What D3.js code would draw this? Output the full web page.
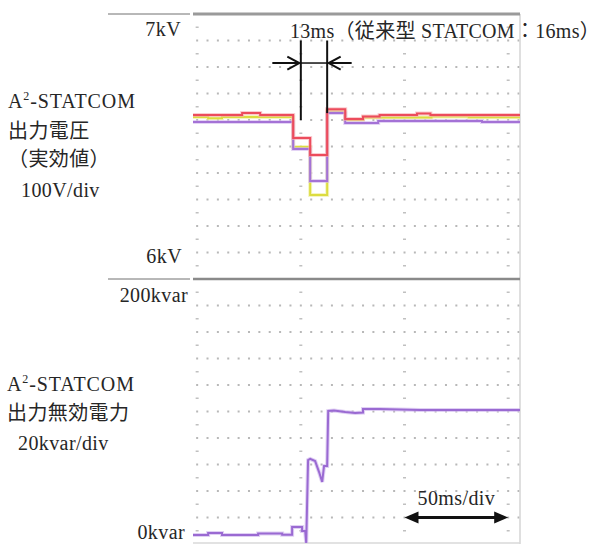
<!DOCTYPE html>
<html><head><meta charset="utf-8">
<script src="https://cdn.jsdelivr.net/npm/d3@7"></script>
<style>body{margin:0;background:#fff} svg{display:block}</style>
</head><body>
<svg id="c" width="603" height="544"></svg>
<script>
// ---- data (time in ms, voltage in V, reactive power in kvar) ----
const redT    = [-2, 21.7, 30.4, 46.3, 54.5, 62.7, 71.4, 80, 88, 106, 112.5, 155.7];
const redV    = [6619, 6626, 6619, 6532, 6468, 6641, 6604, 6613, 6619, 6625, 6619, 6619];
const yellowT = [-2, 5.3, 12, 46.3, 54.5, 62.7, 71.4, 80, 113, 131, 155.7];
const yellowV = [6611, 6607, 6611, 6498, 6317, 6632, 6600, 6609, 6613, 6610, 6610];
const purpleT = [-2, 46.3, 54.5, 62.7, 71.4, 87.3, 137.4, 155.7];
const purpleV = [6592, 6491, 6370, 6626, 6589, 6596, 6592, 6592];
const qT = [-2, 5.3, 5.3, 12, 12, 29.4, 29.4, 41, 41, 45.8, 45.8, 50.6, 50.6, 52.1, 52.6, 53.5, 54.5, 56.9, 58.8, 60.3, 61.2, 62.7, 63.2, 66, 71.4, 76.2, 80, 80, 88, 107.5, 155.7];
const qV = [6.8, 6.8, 8.3, 8.3, 6.8, 6.8, 8.0, 8.0, 7.0, 7.0, 12.8, 12.8, 9.8, 9.8, 0.8, 63.4, 64.2, 62.6, 54.3, 46.8, 58.9, 58.9, 100.4, 100.8, 99.6, 98.9, 99.2, 101.9, 101.9, 101.1, 101.1];
const vTicks = ["7kV", "6kV"];
const qTicks = ["200kvar", "0kvar"];
const markerTimes = [50, 62.7];
const labelTop = ["A", "出力電圧", "（実効値）", "100V/div"];
const labelBot = ["A", "出力無効電力", "20kvar/div"];
const noteText = "13ms（従来型 STATCOM：16ms）";
const divText = "50ms/div";

// ---- scales ----
const x = d3.scaleLinear().domain([-2, 155.7]).range([193, 520]);
const yV = d3.scaleLinear().domain([6000, 7000]).range([279, 14]);
const yQ = d3.scaleLinear().domain([0, 200]).range([544, 279]);

const svg = d3.select("#c");
const FONT = '"Liberation Serif","Noto Sans CJK JP",serif';
const INK = "#262626";

// ---- grid ----
const g = svg.append("g");
const dotT = d3.range(0, 156, 5);
const colT = [0, 50, 100, 150];
function hDots(ys) {
  ys.forEach(yy => {
    g.selectAll(null).data(dotT).enter().append("rect")
      .attr("x", d => x(d) - 1).attr("y", yy - 1).attr("width", 2).attr("height", 2)
      .attr("fill", "#b8b8b8");
  });
}
hDots(d3.range(6100, 6901, 100).map(yV));
hDots(d3.range(20, 181, 20).map(yQ));
const halfV = d3.range(6050, 7000, 100).map(yV);
const halfQ = d3.range(10, 200, 20).map(yQ);
[...halfV, ...halfQ].forEach(yy => {
  g.selectAll(null).data(colT).enter().append("rect")
    .attr("x", d => x(d) - 1.5).attr("y", yy - 0.75).attr("width", 3).attr("height", 1.5)
    .attr("fill", "#c0c0c0");
});

// borders
svg.append("line").attr("x1", x(155.7)).attr("x2", x(155.7)).attr("y1", yV(7000)).attr("y2", 544)
  .attr("stroke", "#d4d4d4").attr("stroke-width", 1.5);
svg.append("line").attr("x1", x(-2)).attr("x2", x(155.7)).attr("y1", 543).attr("y2", 543)
  .attr("stroke", "#d8d8d8").attr("stroke-width", 1.5);
svg.append("line").attr("x1", x(-2)).attr("x2", x(155.7)).attr("y1", yV(7000)).attr("y2", yV(7000))
  .attr("stroke", "#9a9a9a").attr("stroke-width", 3);
svg.append("line").attr("x1", x(-2)).attr("x2", x(155.7)).attr("y1", yV(6000)).attr("y2", yV(6000))
  .attr("stroke", "#8a8a8a").attr("stroke-width", 2.5);
// left label lines
[yV(7000), yV(6000)].forEach(yy => {
  svg.append("line").attr("x1", 108).attr("x2", 190).attr("y1", yy).attr("y2", yy)
    .attr("stroke", "#707070").attr("stroke-width", 1);
});

// ---- traces ----
function trace(T, V, ys, color, halo, curve) {
  const pts = T.map((t, i) => [t, V[i]]);
  const line = d3.line().x(d => x(d[0])).y(d => ys(d[1])).curve(curve);
  svg.append("path").attr("d", line(pts)).attr("fill", "none")
    .attr("stroke", halo).attr("stroke-width", 4).attr("stroke-opacity", 0.6);
  svg.append("path").attr("d", line(pts)).attr("fill", "none")
    .attr("stroke", color).attr("stroke-width", 2);
}
trace(yellowT, yellowV, yV, "#dcdc40", "#eeee98", d3.curveStepAfter);
trace(purpleT, purpleV, yV, "#a472d6", "#d2b8ee", d3.curveStepAfter);
trace(redT, redV, yV, "#ec4c5c", "#f8aab2", d3.curveStepAfter);
trace(qT, qV, yQ, "#9a6ad2", "#cbb0ec", d3.curveLinear);

// ---- annotations ----
const [m1, m2] = markerTimes;
svg.append("line").attr("x1", x(m1)).attr("x2", x(m1)).attr("y1", yV(6900)).attr("y2", yV(6600))
  .attr("stroke", "#111").attr("stroke-width", 2);
svg.append("line").attr("x1", x(m2)).attr("x2", x(m2)).attr("y1", yV(6900)).attr("y2", yV(6626))
  .attr("stroke", "#111").attr("stroke-width", 2);
const ya = yV(6815);
svg.append("line").attr("x1", x(m1)).attr("x2", x(m2)).attr("y1", ya).attr("y2", ya)
  .attr("stroke", "#111").attr("stroke-width", 1.5);
const xl = x(m1) - 1.5, xr = x(m2) + 1.5;
svg.append("path").attr("d", `M${xl - 27},${ya}H${xl}M${xl - 12},${ya - 6.5}L${xl},${ya}L${xl - 12},${ya + 6.5}`)
  .attr("fill", "none").attr("stroke", "#111").attr("stroke-width", 2);
svg.append("path").attr("d", `M${xr + 23},${ya}H${xr}M${xr + 12},${ya - 6.5}L${xr},${ya}L${xr + 12},${ya + 6.5}`)
  .attr("fill", "none").attr("stroke", "#111").attr("stroke-width", 2);

svg.append("text").attr("x", 290).attr("y", 38).attr("font-family", FONT).attr("font-size", 20)
  .attr("letter-spacing", 0.3).attr("fill", INK).text(noteText);

// 50ms/div arrow
const ay = yQ(20), ax1 = x(100), ax2 = x(150);
svg.append("line").attr("x1", ax1 + 10).attr("x2", ax2 - 10).attr("y1", ay).attr("y2", ay)
  .attr("stroke", "#111").attr("stroke-width", 3);
svg.append("path").attr("d", `M${ax1},${ay}L${ax1 + 14},${ay - 6}L${ax1 + 14},${ay + 6}Z`).attr("fill", "#111");
svg.append("path").attr("d", `M${ax2},${ay}L${ax2 - 14},${ay - 6}L${ax2 - 14},${ay + 6}Z`).attr("fill", "#111");
svg.append("text").attr("x", x(125)).attr("y", 505).attr("text-anchor", "middle")
  .attr("font-family", FONT).attr("font-size", 20).attr("letter-spacing", 0.4).attr("fill", INK).text(divText);

// ---- axis labels ----
function lab(t, xx, yy, anchor) {
  return svg.append("text").attr("x", xx).attr("y", yy).attr("text-anchor", anchor || "start")
    .attr("font-family", FONT).attr("font-size", 20).attr("letter-spacing", 0.4)
    .attr("fill", INK).text(t);
}
lab(vTicks[0], 181, 36, "end");
lab(vTicks[1], 182, 263, "end");
lab(qTicks[0], 188, 302, "end");
lab(qTicks[1], 185, 539, "end");

function statcom(xx, yy) {
  const t = svg.append("text").attr("x", xx).attr("y", yy).attr("font-family", FONT)
    .attr("font-size", 20).attr("letter-spacing", 0.9).attr("fill", INK);
  t.append("tspan").text("A");
  t.append("tspan").attr("font-size", 12).attr("dy", -8).text("2");
  t.append("tspan").attr("dy", 8).text("-STATCOM");
}
statcom(8, 108);
lab(labelTop[1], 8, 138);
lab(labelTop[2], 8, 166);
lab(labelTop[3], 21, 197);
statcom(7, 391);
lab(labelBot[1], 7, 420);
lab(labelBot[2], 18, 450);
</script>
</body></html>
